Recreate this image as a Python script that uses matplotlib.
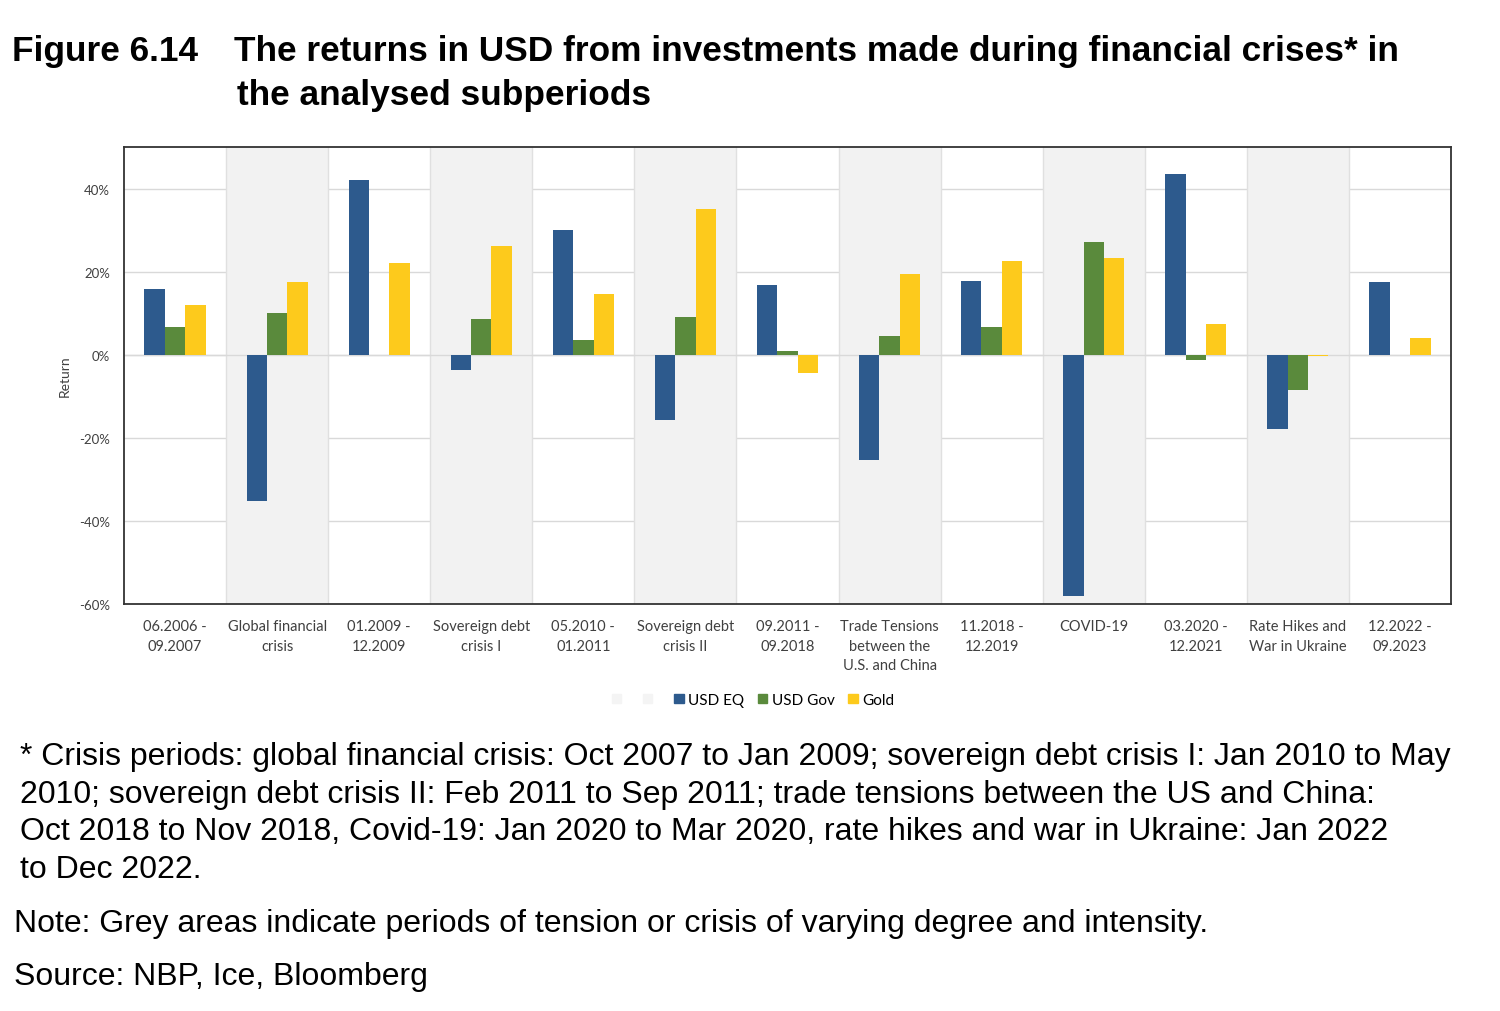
import numpy as np
import matplotlib.pyplot as plt
from matplotlib.patches import Patch

# ---------------------- DATA ----------------------------
categories = ["06.2006 -\n09.2007", "Global financial\ncrisis", "01.2009 -\n12.2009",
              "Sovereign debt\ncrisis I", "05.2010 -\n01.2011", "Sovereign debt\ncrisis II",
              "09.2011 -\n09.2018", "Trade Tensions\nbetween the\nU.S. and China",
              "11.2018 -\n12.2019", "COVID-19", "03.2020 -\n12.2021",
              "Rate Hikes and\nWar in Ukraine", "12.2022 -\n09.2023"]
usd_eq = [15.8, -35.2, 42.0, -3.6, 30.0, -15.8, 16.8, -25.4, 17.7, -58.0, 43.6, -18.0, 17.5]
usd_gov = [6.7, 10.0, 0.0, 8.6, 3.6, 9.1, 1.0, 4.6, 6.7, 27.1, -1.2, -8.6, 0.0]
gold = [12.0, 17.5, 22.0, 26.1, 14.6, 35.0, -4.3, 19.4, 22.5, 23.3, 7.4, -0.4, 4.1]
crisis = [False, True, False, True, False, True, False, True, False, True, False, True, False]
yticks = [-60, -40, -20, 0, 20, 40]

C_EQ = "#2d5a8d"
C_GOV = "#5a8a3c"
C_GOLD = "#fdca1c"
C_SHADE = "#f2f2f2"

fig = plt.figure(figsize=(15, 10.12), dpi=100)
ax = fig.add_axes([0.0827, 0.4022, 0.8846, 0.4516])

x = np.arange(len(categories))
w = 0.2

# grid + shading
for t in yticks:
    ax.axhline(t, color="#d9d9d9", lw=1, zorder=0)
for i, c in enumerate(crisis):
    if c:
        ax.axvspan(i - 0.5, i + 0.5, color=C_SHADE, lw=0, zorder=1)
for i in range(1, len(categories)):
    ax.axvline(i - 0.5, color="#e0e0e0", lw=1, zorder=1.5)
ax.axhline(0, color="#d9d9d9", lw=1, zorder=2)

ax.bar(x - w, usd_eq, w, color=C_EQ, zorder=3)
ax.bar(x, usd_gov, w, color=C_GOV, zorder=3)
ax.bar(x + w, gold, w, color=C_GOLD, zorder=3)

ax.set_xlim(-0.5, len(categories) - 0.5)
ax.set_ylim(-60, 50)
ax.set_yticks(yticks)
ax.set_yticklabels([f"{t}%" for t in yticks], fontsize=9.5, color="#404040", family="Lato")
ax.set_xticks(x)
ax.set_xticklabels(categories, fontsize=10.5, color="#404040", family="Lato", linespacing=1.5)
ax.tick_params(axis="x", length=0, pad=11)
ax.tick_params(axis="y", length=0, pad=10)
ax.set_ylabel("Return", fontsize=10, color="#404040", family="Lato", labelpad=6)
for s in ax.spines.values():
    s.set_color("#333333")
    s.set_linewidth(1.3)

handles = [Patch(color="#f4f4f4"), Patch(color="#f4f4f4"),
           Patch(color=C_EQ), Patch(color=C_GOV), Patch(color=C_GOLD)]
labels = [" ", " ", "USD EQ", "USD Gov", "Gold"]
fig.legend(handles, labels, loc="center", bbox_to_anchor=(0.502, 1 - 701 / 1012), ncol=5,
           frameon=False, handlelength=0.6, handleheight=0.6, handletextpad=0.3,
           columnspacing=0.9, prop={"family": "Lato", "size": 11})

# ---------------------- TEXT -----------------------------
fig.text(12 / 1500, 1 - 51 / 1012, "Figure 6.14", fontsize=25.4, fontweight="bold",
         family="Liberation Sans", va="center")
fig.text(234 / 1500, 1 - 51 / 1012, "The returns in USD from investments made during financial crises* in",
         fontsize=25.4, fontweight="bold", family="Liberation Sans", va="center")
fig.text(237 / 1500, 1 - 96 / 1012, "the analysed subperiods", fontsize=25.4, fontweight="bold",
         family="Liberation Sans", va="center")

foot = ("* Crisis periods: global financial crisis: Oct 2007 to Jan 2009; sovereign debt crisis I: Jan 2010 to May\n"
        "2010; sovereign debt crisis II: Feb 2011 to Sep 2011; trade tensions between the US and China:\n"
        "Oct 2018 to Nov 2018, Covid-19: Jan 2020 to Mar 2020, rate hikes and war in Ukraine: Jan 2022\n"
        "to Dec 2022.")
fig.text(20 / 1500, 1 - 742 / 1012, foot, fontsize=23, family="Liberation Sans", va="top",
         linespacing=1.335)
fig.text(14 / 1500, 1 - 924 / 1012, "Note: Grey areas indicate periods of tension or crisis of varying degree and intensity.",
         fontsize=23, family="Liberation Sans", va="center")
fig.text(14 / 1500, 1 - 977 / 1012, "Source: NBP, Ice, Bloomberg",
         fontsize=23, family="Liberation Sans", va="center")

fig.savefig("out.png", dpi=100)
